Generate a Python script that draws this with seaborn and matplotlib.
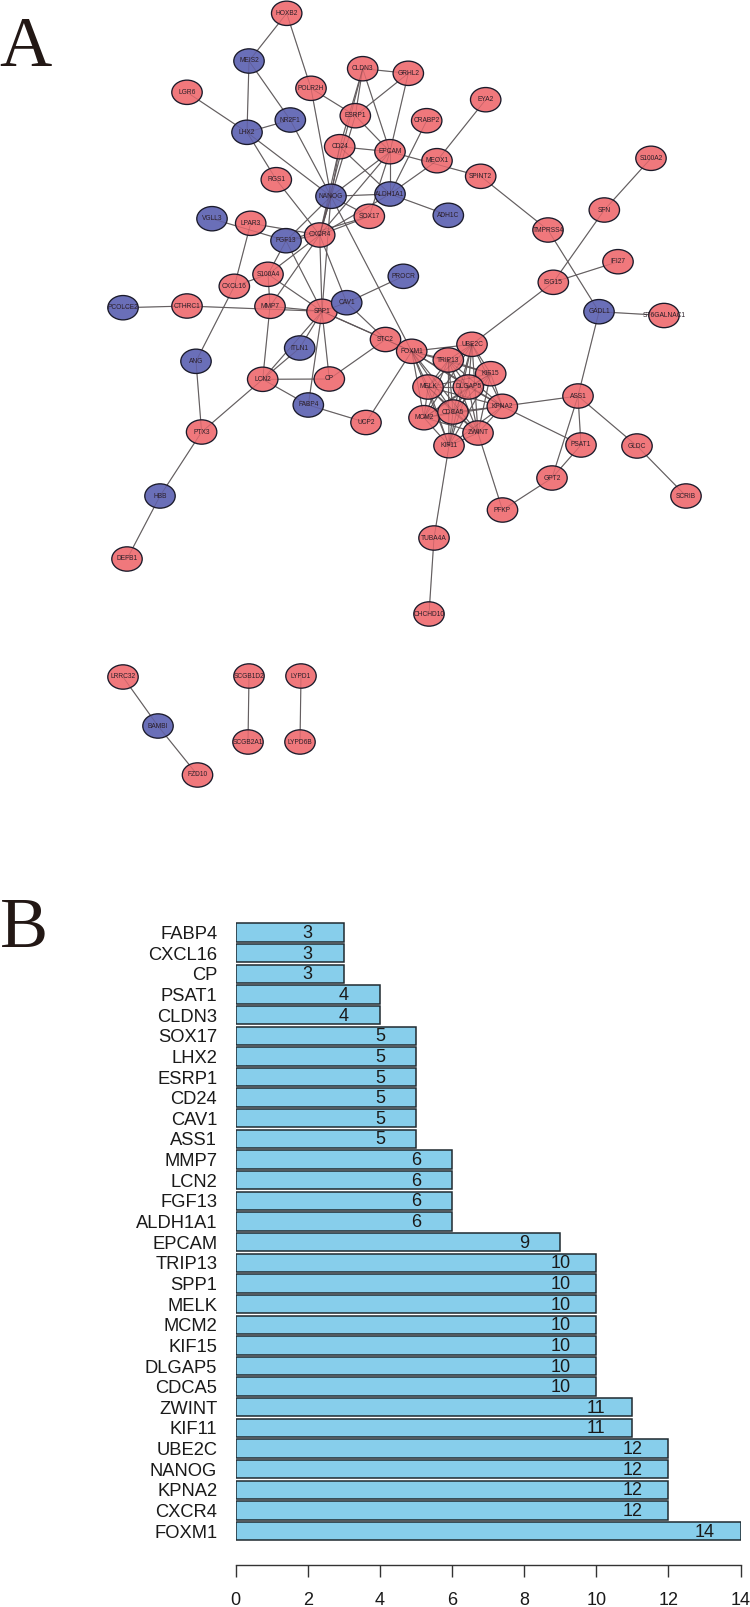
import itertools
import matplotlib
matplotlib.use("Agg")
import matplotlib.pyplot as plt
from matplotlib.path import Path
from matplotlib.transforms import Affine2D
import pandas as pd
import seaborn as sns

sns.set_theme(style="white")
plt.rcParams['font.family'] = ['Liberation Sans', 'DejaVu Sans']

W, H = 750, 1607

red_nodes = ["HOXB2","LGR6","POLR2H","CLDN3","GRHL2","ESRP1","CD24","EPCAM","EYA2","CRABP2","MEOX1","SPINT2",
             "RGS1","SOX17","LPAR3","CXCR4","S100A4","CXCL16","CTHRC1","MMP7","SPP1","LCN2","CP","UCP2","PTX3",
             "STC2","FOXM1","UBE2C","TRIP13","KIF15","MELK","DLGAP5","KPNA2","MCM2","CDCA5","ZWINT","KIF11",
             "TMPRSS4","SFN","S100A2","IFI27","ISG15","ST6GALNAC1","ASS1","PSAT1","GLDC","SCRIB","GPT2","PFKP",
             "TUBA4A","CHCHD10","DEFB1","LRRC32","FZD10","SCGB1D2","SCGB2A1","LYPD1","LYPD6B"]
red_x = [286.7,187,311,362.7,408.3,355.3,339.7,390,485.7,426.7,437,480.7,
         276.3,369.3,250.7,319.7,268,234.3,187,270,322,262.7,329.3,366,201.6,
         385.5,411.7,472,448.3,490.7,428,468.3,502.3,424,453,478,449,
         548,604.3,651,618,553.3,664,578,581,637,686,552,502.5,
         434,429,127,123,197.5,249,248,301,300]
red_y = [13.3,92.3,88.3,68.7,73.3,115.7,146.7,151.7,99.7,120.7,160.7,176.3,
         179.7,216.3,223.3,235,274.3,286.3,306,306.3,311.3,379.3,379,422.5,432,
         339.5,351.3,344.3,360,373.7,387,387,406.3,417.7,412,433,445.7,
         230,210,158.3,261.7,282.3,315.5,396,445,446,496,478,510,
         538,614,559,677,775,676,742,676,742]

blue_nodes = ["MEIS2","NR2F1","LHX2","NANOG","ALDH1A1","ADH1C","VGLL3","FGF13","CAV1","PROCR","PCOLCE2",
              "ITLN1","ANG","FABP4","GADL1","HBB","BAMBI"]
blue_x = [249,290.3,247,331,390,448.3,212,286,346.7,403.3,123,299.7,196,308.3,599,160,158]
blue_y = [61,120,132.3,196.3,194,215.3,218.7,240.7,302.7,276.3,307.7,348,361.3,405,311.7,496,726]

edge_from = ["HOXB2","HOXB2","MEIS2","MEIS2","LGR6","LHX2","LHX2","LHX2","NR2F1","POLR2H","POLR2H","RGS1",
             "CLDN3","CLDN3","CLDN3","CLDN3","CLDN3","ESRP1","ESRP1","ESRP1","CD24","CD24","CD24","CD24",
             "GRHL2","EPCAM","EPCAM","EPCAM","EPCAM","EPCAM","CRABP2","MEOX1","MEOX1","NANOG","NANOG","NANOG",
             "NANOG","NANOG","NANOG","ALDH1A1","ALDH1A1","SOX17","SOX17","VGLL3","LPAR3","LPAR3","CXCR4","CXCR4",
             "CXCR4","CXCR4","CXCR4","FGF13","FGF13","S100A4","S100A4","S100A4","CXCL16","CTHRC1","CTHRC1","MMP7",
             "MMP7","SPP1","SPP1","SPP1","SPP1","SPP1","SPP1","SPP1","CAV1","CAV1","ITLN1","LCN2","LCN2","LCN2",
             "CP","FABP4","UCP2","STC2","ANG","PTX3","HBB","UBE2C","ISG15","ISG15","SFN","SPINT2","TMPRSS4",
             "GADL1","GADL1","KPNA2","KPNA2","ASS1","ASS1","ASS1","PSAT1","GLDC","GPT2","ZWINT","KIF11","TUBA4A",
             "LRRC32","BAMBI","SCGB1D2","LYPD1"]
edge_to = ["MEIS2","POLR2H","LHX2","NR2F1","LHX2","NR2F1","RGS1","NANOG","NANOG","ESRP1","NANOG","CXCR4",
           "GRHL2","ESRP1","EPCAM","CD24","CXCR4","GRHL2","EPCAM","CXCR4","EPCAM","ALDH1A1","CXCR4","NANOG",
           "EPCAM","NANOG","ALDH1A1","SOX17","CXCR4","SPINT2","ALDH1A1","ALDH1A1","EYA2","ALDH1A1","SOX17","CXCR4",
           "FGF13","SPP1","FOXM1","ADH1C","CXCR4","CXCR4","FGF13","FGF13","CXCR4","CXCL16","FGF13","SPP1",
           "MMP7","CAV1","S100A4","SPP1","S100A4","CXCL16","SPP1","MMP7","ANG","PCOLCE2","SPP1","SPP1",
           "LCN2","CAV1","STC2","ITLN1","LCN2","CP","FABP4","FOXM1","PROCR","STC2","LCN2","CP","FABP4","PTX3",
           "STC2","UCP2","FOXM1","FOXM1","PTX3","HBB","DEFB1","ISG15","SFN","IFI27","S100A2","TMPRSS4","GADL1",
           "ST6GALNAC1","ASS1","ASS1","PSAT1","PSAT1","GPT2","GLDC","GPT2","SCRIB","PFKP","PFKP","TUBA4A","CHCHD10",
           "BAMBI","FZD10","SCGB2A1","LYPD6B"]
cluster_genes = ["FOXM1","UBE2C","TRIP13","KIF15","MELK","DLGAP5","KPNA2","MCM2","CDCA5","ZWINT","KIF11"]

bar_genes = ["FABP4","CXCL16","CP","PSAT1","CLDN3","SOX17","LHX2","ESRP1","CD24","CAV1","ASS1","MMP7","LCN2","FGF13",
             "ALDH1A1","EPCAM","TRIP13","SPP1","MELK","MCM2","KIF15","DLGAP5","CDCA5","ZWINT","KIF11","UBE2C",
             "NANOG","KPNA2","CXCR4","FOXM1"]
bar_values = [3,3,3,4,4,5,5,5,5,5,5,6,6,6,6,9,10,10,10,10,10,10,10,11,11,12,12,12,12,14]
x_ticks = [0,2,4,6,8,10,12,14]

fig = plt.figure(figsize=(W/100, H/100), dpi=100, facecolor="white")

# ---------- panel A: network ----------
net = fig.add_axes([0, 0, 1, 1], zorder=1)
net.set_xlim(0, W)
net.set_ylim(H, 0)
net.axis("off")
nodes = pd.DataFrame({
    "name": red_nodes + blue_nodes,
    "x": red_x + blue_x,
    "y": red_y + blue_y,
    "group": ["up"]*len(red_nodes) + ["down"]*len(blue_nodes),
})
pos = {n: (x, y) for n, x, y in zip(nodes.name, nodes.x, nodes.y)}
pairs = list(zip(edge_from, edge_to)) + list(itertools.combinations(cluster_genes, 2))
for a, b in pairs:
    net.plot([pos[a][0], pos[b][0]], [pos[a][1], pos[b][1]], color="#6e6e6e", lw=0.85, zorder=1,
             solid_capstyle="round")
ellipse = Path.unit_circle().transformed(Affine2D().scale(1, 0.8))
sns.scatterplot(data=nodes, x="x", y="y", hue="group", palette={"up": "#F0787C", "down": "#6A6FB8"},
                marker=ellipse, s=480, edgecolor="#1a1a2a", linewidth=0.95, legend=False, ax=net, zorder=2)
# edges show faintly through the discs in the source
for a, b in pairs:
    net.plot([pos[a][0], pos[b][0]], [pos[a][1], pos[b][1]], color="#40202a", lw=0.6, alpha=0.22, zorder=3)
for n, x, y in zip(nodes.name, nodes.x, nodes.y):
    net.text(x, y, n, ha="center", va="center", fontsize=4.8, color="#2b1f28", zorder=4)
net.set_xlabel("")
net.set_ylabel("")
net.text(-1, 66, "A", family="Liberation Serif", fontsize=52, color="#231815", ha="left", va="baseline", zorder=5)
net.text(0, 947, "B", family="Liberation Serif", fontsize=52, color="#231815", ha="left", va="baseline", zorder=5)

# ---------- panel B: bars ----------
left, right, top, bottom = 235.7, 740.5, 922.0, 1565.0
ax = fig.add_axes([left/W, 1-bottom/H, (right-left)/W, (bottom-top)/H], zorder=2)
ax.patch.set_alpha(0)
bars = pd.DataFrame({"gene": bar_genes, "degree": bar_values})
sns.barplot(data=bars, x="degree", y="gene", order=bar_genes, color="#87CEEB", saturation=1, width=0.887,
            edgecolor="#1f2a30", linewidth=1.1, ax=ax)
ax.set_xlim(0, 14)
ax.set_ylim(30.64, -0.509)
for i, v in enumerate(bar_values):
    ax.text(v-1, i+0.05, str(v), ha="center", va="center", fontsize=13, color="#1a1a1a")
ax.set_xlabel("")
ax.set_ylabel("")
ax.set_xticks(x_ticks)
ax.tick_params(axis="x", bottom=True, length=8.5, width=1.0, color="#333333", pad=11, labelsize=13, labelcolor="#1a1a1a")
ax.tick_params(axis="y", left=False, length=0, pad=13.3, labelsize=13.2, labelcolor="#1a1a1a")
for s in ["top", "right", "left"]:
    ax.spines[s].set_visible(False)
ax.spines["bottom"].set_color("#333333")
ax.spines["bottom"].set_linewidth(1.0)

fig.savefig("out.png", dpi=100)
